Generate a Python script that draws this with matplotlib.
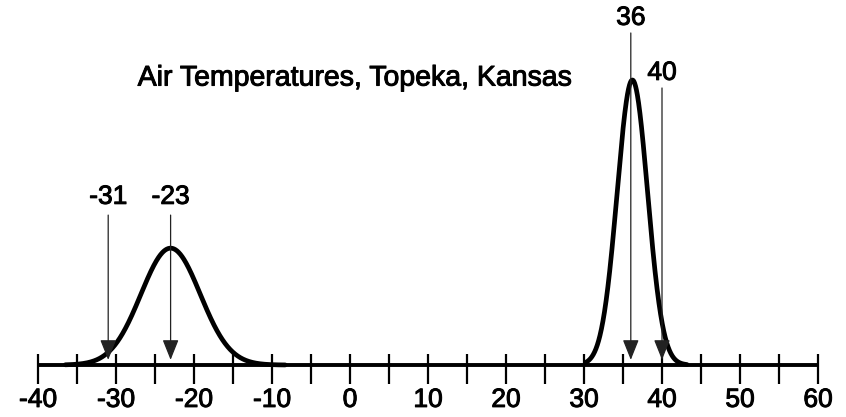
import numpy as np
import matplotlib
matplotlib.use("Agg")
import matplotlib.pyplot as plt
import matplotlib.patheffects as pe

# ---- data ----
title = "Air Temperatures, Topeka, Kansas"
curve_means = [-23.0, 36.2]
curve_sigmas = [3.8, 1.95]
curve_peaks = [0.41, 1.0]
curve_ranges = [(-36.5, -8.3), (30.3, 43.2)]

arrow_values = [-31, -23, 36, 40]
arrow_labels = ["-31", "-23", "36", "40"]
arrow_label_y = [0.59, 0.59, 1.218, 1.025]
arrow_top_y = [0.526, 0.526, 1.165, 0.972]

major_ticks = [-40, -30, -20, -10, 0, 10, 20, 30, 40, 50, 60]
tick_labels = ["-40", "-30", "-20", "-10", "0", "10", "20", "30", "40", "50", "60"]
minor_ticks = [-35, -25, -15, -5, 5, 15, 25, 35, 45, 55]

W, H = 846, 417
fig = plt.figure(figsize=(W / 100, H / 100), dpi=100)
base_px = 52
ax = fig.add_axes([38 / W, base_px / H, 780 / W, (H - base_px) / H])
px_per_unit = 285.0
ax.set_xlim(-40, 60)
ax.set_ylim(0, (H - base_px) / px_per_unit)
for s in ax.spines.values():
    s.set_visible(False)
ax.set_yticks([])

font = ["Liberation Sans", "DejaVu Sans"]
thick = [pe.withStroke(linewidth=0.7, foreground="black")]

# axis line and ticks
ax.plot([major_ticks[0], major_ticks[-1]], [0, 0], color="black", lw=2.8,
        solid_capstyle="butt", clip_on=False, zorder=3)
all_ticks = sorted(major_ticks + minor_ticks)
ax.vlines(all_ticks, -19 / px_per_unit, 11 / px_per_unit, color="black",
          lw=1.6, clip_on=False, zorder=3)
ax.set_xticks(major_ticks)
ax.set_xticklabels(tick_labels, fontfamily=font, fontsize=19)
for t in ax.get_xticklabels():
    t.set_path_effects(thick)
ax.tick_params(axis="x", length=0, pad=16.5)

# curves
for m, sd, pk, (lo, hi) in zip(curve_means, curve_sigmas, curve_peaks, curve_ranges):
    xs = np.linspace(lo, hi, 600)
    ys = pk * np.exp(-0.5 * ((xs - m) / sd) ** 2)
    ax.plot(xs, ys, color="black", lw=3.4, solid_capstyle="round",
            clip_on=False, zorder=4)

# arrows
for v, lab, ly, ty in zip(arrow_values, arrow_labels, arrow_label_y, arrow_top_y):
    ax.annotate("", xy=(v, 0.018), xytext=(v, ty),
                arrowprops=dict(arrowstyle="-|>,head_length=1.25,head_width=0.5",
                                color="#222222", lw=0.9, shrinkA=0, shrinkB=0),
                zorder=5, annotation_clip=False)
    ax.text(v, ly, lab, ha="center", va="center", fontsize=19,
            fontfamily=font, color="black", path_effects=thick)

ax.text(0.6, 1.005, title, ha="center", va="center", fontsize=20.5,
        fontfamily=font, color="black", path_effects=thick)

fig.savefig("out.png", dpi=100)
